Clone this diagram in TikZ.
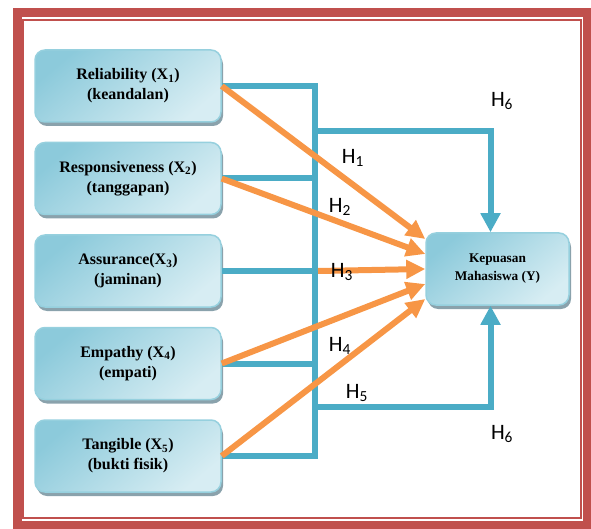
\documentclass[tikz,border=0pt]{standalone}
\usepackage{fontspec}
\setmainfont{Liberation Serif}
\newfontfamily\hfont{Carlito}
\usepackage{tikz}
\usetikzlibrary{arrows.meta,shadows,calc}

\definecolor{framered}{RGB}{192,80,77}
\definecolor{busteal}{RGB}{75,172,198}
\definecolor{hyporange}{RGB}{247,150,70}
\definecolor{boxedge}{RGB}{150,208,222}
\definecolor{boxdark}{RGB}{140,202,219}
\definecolor{boxlight}{RGB}{228,243,247}
\definecolor{shadowgray}{RGB}{138,162,172}

\begin{document}
\begin{tikzpicture}[x=1pt,y=1pt,node distance=92.5pt,>={Triangle[length=19pt,width=19pt]}]

					\tikzstyle{dim}=[rectangle,rounded corners=10pt,draw=boxedge,line width=1.5pt,
						top color=boxdark,middle color=boxlight,bottom color=boxlight!85!boxdark,shading angle=40,
						drop shadow={shadow xshift=2pt,shadow yshift=-4pt,opacity=1,fill=shadowgray},
						minimum width=186pt,minimum height=72pt,align=center,
						font=\bfseries\fontsize{16}{20}\selectfont]
					\tikzstyle{outcome}=[dim,minimum width=143pt,font=\bfseries\fontsize{13.3}{18}\selectfont]
					\tikzstyle{link}=[draw=busteal,line width=6pt]
					\tikzstyle{effect}=[draw=hyporange,line width=6pt,->,>={Triangle[length=19pt,width=18pt]},hyporange]
					\tikzstyle{hlabel}=[inner sep=0pt,font=\hfont\fontsize{22}{24}\selectfont]

		\useasboundingbox (0,0) rectangle (591,528);
		\clip (0,0) rectangle (591,528);

		% frame
		\draw [framered,line width=9pt] (17.5,515.5) rectangle (587.5,2.5);
		\draw [framered,line width=1.5pt] (23,508) rectangle (581,10);

		% dimensions
		\node [dim] (x1) at (128,442) {Reliability (X\textsubscript{1})\\(keandalan)};
		\node [dim] (x2) [below of=x1] {Responsiveness (X\textsubscript{2})\\(tanggapan)};
		\node [dim] (x3) [below of=x2] {Assurance(X\textsubscript{3})\\(jaminan)};
		\node [dim] (x4) [below of=x3] {Empathy (X\textsubscript{4})\\(empati)};
		\node [dim] (x5) [below of=x4] {Tangible (X\textsubscript{5})\\(bukti fisik)};

		\node [outcome] (y) at (497.5,259) {Kepuasan\\Mahasiswa (Y)};

		\coordinate (bus) at (315,0);
		\coordinate (h6a) at (315,397);
		\coordinate (h6b) at (315,121);

		% simultaneous
		\draw [link] (x1.east) -| (bus |- x5.east) -- (x5.east);
		\foreach \i in {2,3,4}
			\draw [link] (x\i.east) -- (bus |- x\i.east);
		\draw [link,->] (h6a) -| ($(y.north)+(-7,0)$);
		\draw [link,->] (h6b) -| ($(y.south)+(-7,0)$);

		% partial
		\foreach \i/\d in {1/30,2/15,4/-15,5/-30}
			\draw [effect] (x\i.east) -- ($(y.west)+(0,\d)$);
		\draw [effect] ($(bus |- x3.east)+(3,0)$) -- (y.west);

		\node [hlabel] (h1) at (353,370) {H\textsubscript{1}};
		\node [hlabel] (h2) at (340,321) {H\textsubscript{2}};
		\node [hlabel] (h3) at (342,256) {H\textsubscript{3}};
		\node [hlabel] (h4) at (340,182) {H\textsubscript{4}};
		\node [hlabel] (h5) at (357,135) {H\textsubscript{5}};
		\node [hlabel] (h6t) at (502,427) {H\textsubscript{6}};
		\node [hlabel] (h6u) at (502,94) {H\textsubscript{6}};
\end{tikzpicture}
\end{document}
